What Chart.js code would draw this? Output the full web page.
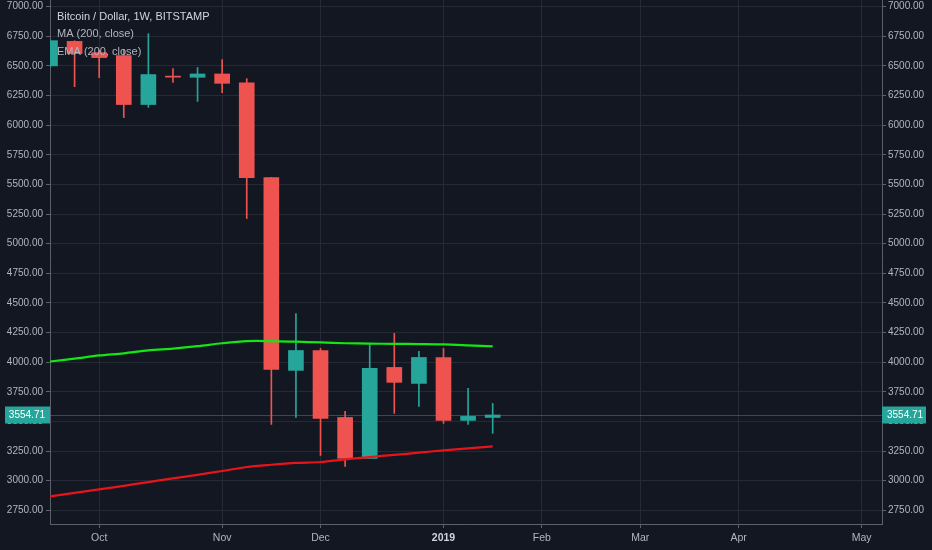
<!DOCTYPE html>
<html>
<head>
<meta charset="utf-8">
<script src="https://cdn.jsdelivr.net/npm/chart.js@4.4.1/dist/chart.umd.min.js"></script>
<style>
  html, body { margin: 0; padding: 0; background: #131722; }
  #wrap { position: relative; width: 932px; height: 550px; }
</style>
</head>
<body>
<div id="wrap"><canvas id="btcChart"></canvas></div>
<script>
// Weekly BTC/USD candles, Bitstamp
const weeks = ['2018-09-17', '2018-09-24', '2018-10-01', '2018-10-08', '2018-10-15', '2018-10-22',
  '2018-10-29', '2018-11-05', '2018-11-12', '2018-11-19', '2018-11-26', '2018-12-03', '2018-12-10',
  '2018-12-17', '2018-12-24', '2018-12-31', '2019-01-07', '2019-01-14', '2019-01-21'];
const open  = [6500, 6707, 6612, 6587, 6174, 6414, 6404, 6432, 6357, 5558, 3931, 4099, 3534, 3189, 3956, 3821, 4040, 3509, 3534];
const high  = [6720, 6712, 6630, 6640, 6772, 6477, 6486, 6553, 6393, 5560, 4411, 4116, 3585, 4150, 4243, 4091, 4116, 3779, 3652];
const low   = [6490, 6325, 6401, 6064, 6150, 6360, 6200, 6275, 5212, 3475, 3534, 3214, 3121, 3189, 3568, 3627, 3484, 3475, 3400];
const close = [6713, 6604, 6570, 6174, 6427, 6405, 6432, 6353, 5558, 3939, 4099, 3526, 3189, 3948, 3830, 4040, 3509, 3543, 3554.71];

// Moving averages
const ma200  = [4006, 4030, 4057, 4075, 4100, 4115, 4135, 4160, 4178, 4178, 4173, 4167, 4160, 4157, 4155, 4153, 4150, 4142, 4133];
const ema200 = [2868, 2898, 2927, 2957, 2989, 3020, 3050, 3082, 3116, 3135, 3150, 3158, 3180, 3200, 3218, 3237, 3256, 3273, 3290];

// Axis ticks
const yTicks = [2750, 3000, 3250, 3500, 3750, 4000, 4250, 4500, 4750, 5000, 5250, 5500, 5750, 6000, 6250, 6500, 6750, 7000];
const xTickWeeks  = [2, 7, 11, 16, 20, 24, 28, 33];
const xTickLabels = ['Oct', 'Nov', 'Dec', '2019', 'Feb', 'Mar', 'Apr', 'May'];

const UP = '#26a69a';
const DOWN = '#ef5350';
const TEXT = '#b2b5be';
const AXIS = '#5d606b';
const GRID = '#262a36';
const FONT = "'Liberation Sans', Arial, sans-serif";

const candleColors = close.map((c, i) => (c >= open[i] ? UP : DOWN));
const lastClose = close[close.length - 1];

// Legend in the top-left corner
const legendPlugin = {
  id: 'legendText',
  afterDraw(chart) {
    const ctx = chart.ctx;
    ctx.save();
    ctx.textBaseline = 'middle';
    ctx.font = '11px ' + FONT;
    ctx.fillStyle = '#d1d4dc';
    ctx.fillText('Bitcoin / Dollar, 1W, BITSTAMP', 57, 17);
    ctx.fillStyle = TEXT;
    ctx.fillText('MA (200, close)', 57, 34);
    ctx.fillText('EMA (200, close)', 57, 52);
    ctx.restore();
  }
};

// Last price line and labels on both axes
const priceLinePlugin = {
  id: 'priceLine',
  afterDraw(chart) {
    const { ctx, chartArea } = chart;
    const y = Math.round(chart.scales.y.getPixelForValue(lastClose)) + 0.5;
    ctx.save();
    ctx.strokeStyle = 'rgba(38,166,154,0.45)';
    ctx.lineWidth = 1;
    ctx.beginPath();
    ctx.moveTo(chartArea.left, y);
    ctx.lineTo(chartArea.right, y);
    ctx.stroke();

    ctx.fillStyle = UP;
    ctx.fillRect(5, y - 9, chartArea.left - 5, 17);
    ctx.fillRect(chartArea.right, y - 9, 44, 17);
    ctx.fillStyle = '#ffffff';
    ctx.font = '10px ' + FONT;
    ctx.textBaseline = 'middle';
    ctx.textAlign = 'right';
    ctx.fillText(lastClose.toFixed(2), chartArea.left - 5, y);
    ctx.textAlign = 'left';
    ctx.fillText(lastClose.toFixed(2), chartArea.right + 5, y);
    ctx.restore();
  }
};

const bgPlugin = {
  id: 'bg',
  beforeDraw(chart) {
    const ctx = chart.ctx;
    ctx.save();
    ctx.fillStyle = '#131722';
    ctx.fillRect(0, 0, chart.width, chart.height);
    ctx.restore();
  }
};

function yAxis(position) {
  return {
    type: 'linear',
    position,
    min: 2635,
    max: 7056,
    afterBuildTicks: (scale) => { scale.ticks = yTicks.map(v => ({ value: v })); },
    afterFit: (scale) => {
      scale.width = 50;
      scale.paddingTop = 0;
      scale.paddingBottom = 0;
    },
    border: { display: true, color: AXIS },
    grid: {
      color: GRID,
      drawOnChartArea: position === 'left',
      tickLength: 4,
      tickColor: AXIS,
    },
    ticks: {
      color: TEXT,
      padding: position === 'left' ? 3 : 2,
      font: { family: FONT, size: 10 },
      callback: (v) => v.toFixed(2),
    },
  };
}

new Chart(document.getElementById('btcChart'), {
  data: {
    datasets: [
      {
        type: 'line',
        label: 'MA (200, close)',
        data: ma200.map((v, i) => ({ x: i, y: v })),
        borderColor: '#14e614',
        borderWidth: 2.2,
        pointRadius: 0,
        tension: 0.3,
        yAxisID: 'y',
        order: 1,
      },
      {
        type: 'line',
        label: 'EMA (200, close)',
        data: ema200.map((v, i) => ({ x: i, y: v })),
        borderColor: '#e8141b',
        borderWidth: 2.2,
        pointRadius: 0,
        tension: 0.3,
        yAxisID: 'y',
        order: 1,
      },
      {
        type: 'bar',
        label: 'body',
        data: weeks.map((w, i) => ({ x: i, y: [open[i], close[i]] })),
        backgroundColor: candleColors,
        barThickness: 15,
        grouped: false,
        yAxisID: 'y',
        order: 2,
      },
      {
        type: 'bar',
        label: 'wick',
        data: weeks.map((w, i) => ({ x: i, y: [low[i], high[i]] })),
        backgroundColor: candleColors,
        barThickness: 1,
        grouped: false,
        yAxisID: 'y',
        order: 3,
      },
    ],
  },
  options: {
    responsive: true,
    maintainAspectRatio: false,
    animation: false,
    layout: { padding: 0 },
    plugins: {
      legend: { display: false },
      tooltip: { enabled: false },
    },
    scales: {
      x: {
        type: 'linear',
        offset: false,
        min: 0,
        max: 33.83,
        afterBuildTicks: (scale) => { scale.ticks = xTickWeeks.map(v => ({ value: v })); },
        afterFit: (scale) => { scale.height = 26; },
        border: { display: true, color: AXIS },
        grid: { color: GRID, offset: false, tickLength: 4, tickColor: AXIS },
        ticks: {
          color: (c) => (c.tick && c.tick.value === 16 ? '#d1d4dc' : TEXT),
          padding: 4,
          maxRotation: 0,
          autoSkip: false,
          font: (c) => ({
            family: FONT,
            size: 10.5,
            weight: c.tick && c.tick.value === 16 ? 'bold' : 'normal',
          }),
          callback: (v) => xTickLabels[xTickWeeks.indexOf(v)],
        },
      },
      y: yAxis('left'),
      y2: yAxis('right'),
    },
  },
  plugins: [bgPlugin, legendPlugin, priceLinePlugin],
});
</script>
</body>
</html>
